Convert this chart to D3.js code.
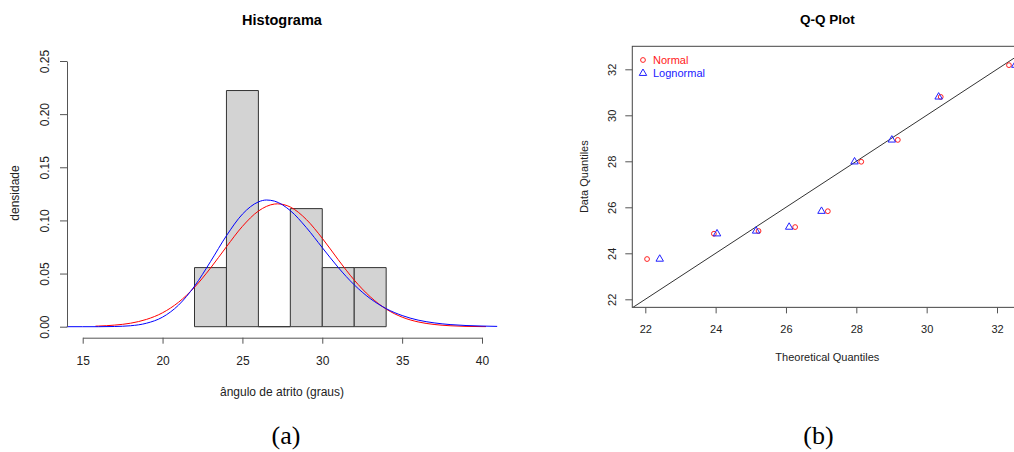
<!DOCTYPE html>
<html>
<head>
<meta charset="utf-8">
<script src="https://cdn.jsdelivr.net/npm/d3@7"></script>
<style>
  body { margin: 0; background: #fff; }
  svg { display: block; font-family: "Liberation Sans", Arial, sans-serif; }
  .axis path, .axis line { stroke: #555; }
  .axis text { fill: #222; }
</style>
</head>
<body>
<svg id="chart" width="1014" height="452"></svg>
<script>
"use strict";

// histogram bins (left panel)
var histBreaks = [22, 24, 26, 28, 30, 32, 34];
var histDensity = [0.0556, 0.2222, 0, 0.1111, 0.0556, 0.0556];
var histXTicks = [15, 20, 25, 30, 35, 40];
var histYTicks = [0, 0.05, 0.10, 0.15, 0.20, 0.25];

// fitted densities
var normX = [15.8, 16, 17, 18, 19, 20, 21, 22, 23, 24, 25, 26, 27, 27.2, 28, 29, 30, 31, 32, 33, 34, 35, 36, 37, 38, 39, 40, 40.25];
var normY = [0.0005, 0.0006, 0.0015, 0.0033, 0.0069, 0.0131, 0.0230, 0.0371, 0.0551, 0.0752, 0.0944, 0.1088, 0.1154, 0.1156, 0.1126, 0.1009, 0.0832, 0.0630, 0.0439, 0.0282, 0.0166, 0.0090, 0.0045, 0.0021, 0.0009, 0.0003, 0.0001, 0.0001];
var lognX = [14, 15, 16, 17, 18, 19, 20, 21, 22, 23, 24, 25, 26, 26.5, 27, 28, 29, 30, 31, 32, 33, 34, 35, 36, 37, 38, 39, 40, 40.95];
var lognY = [0, 0, 0, 0.0002, 0.0009, 0.0033, 0.0090, 0.0203, 0.0381, 0.0612, 0.0856, 0.1059, 0.1174, 0.1192, 0.1182, 0.1092, 0.0933, 0.0744, 0.0557, 0.0394, 0.0265, 0.0170, 0.0105, 0.0062, 0.0036, 0.0020, 0.0011, 0.0006, 0.0003];

// Q-Q plot (right panel)
var qqData      = [23.75, 24.85, 24.97, 25.14, 25.83, 27.98, 28.93, 30.80, 32.18];
var qqNormal    = [22.05, 23.95, 25.22, 26.26, 27.19, 28.14, 29.18, 30.40, 32.34];
var qqLognormal = [22.41, 24.04, 25.15, 26.09, 27.01, 27.95, 29.01, 30.34, 32.52];
var qqTicks = [22, 24, 26, 28, 30, 32];

var svg = d3.select('#chart');

// ---------- histogram ----------
var hx = d3.scaleLinear().domain([15, 40]).range([82.7, 482]);
var hy = d3.scaleLinear().domain([0, 0.25]).range([326.7, 61]);

var bins = histDensity.map(function(d, i) {
    return {x0: histBreaks[i], x1: histBreaks[i + 1], d: d};
});

svg.append('g').selectAll('path')
    .data(bins)
  .enter().append('path')
    .attr('d', function(b) {
        return 'M' + hx(b.x0) + ',' + hy(0) + 'V' + hy(b.d) +
               'H' + hx(b.x1) + 'V' + hy(0) + 'Z';
    })
    .style('fill', '#d3d3d3')
    .style('stroke', '#333')
    .style('stroke-width', 1);

function densityLine(xs, ys) {
    return d3.line()
        .x(function(d, i) { return hx(xs[i]); })
        .y(function(d) { return hy(d); })
        .curve(d3.curveMonotoneX)(ys);
}

svg.append('path')
    .attr('d', densityLine(normX, normY))
    .style('fill', 'none').style('stroke', '#ff0000').style('stroke-width', 1);
svg.append('path')
    .attr('d', densityLine(lognX, lognY))
    .style('fill', 'none').style('stroke', '#0000ff').style('stroke-width', 1);

var hxAxis = svg.append('g')
    .attr('class', 'axis')
    .attr('transform', 'translate(0,337.7)')
    .call(d3.axisBottom(hx).tickValues(histXTicks).tickSize(6).tickSizeOuter(0).tickPadding(13)
          .tickFormat(d3.format('d')));
hxAxis.selectAll('text').style('font-size', '12px');

var hyAxis = svg.append('g')
    .attr('class', 'axis')
    .attr('transform', 'translate(67,0)')
    .call(d3.axisLeft(hy).tickValues(histYTicks).tickSize(7).tickSizeOuter(0)
          .tickFormat(d3.format('.2f')));
hyAxis.selectAll('text')
    .attr('x', null).attr('dy', '0.35em')
    .attr('text-anchor', 'middle')
    .attr('transform', 'translate(-22,0) rotate(-90)')
    .style('font-size', '12px');

svg.append('text')
    .attr('x', 282).attr('y', 25)
    .attr('text-anchor', 'middle')
    .style('font-weight', 'bold').style('font-size', '14.5px')
    .text('Histograma');
svg.append('text')
    .attr('x', 282).attr('y', 396)
    .attr('text-anchor', 'middle')
    .style('font-size', '12px').style('fill', '#222')
    .text('ângulo de atrito (graus)');
svg.append('text')
    .attr('transform', 'translate(19,193) rotate(-90)')
    .attr('text-anchor', 'middle')
    .style('font-size', '12px').style('fill', '#222')
    .text('densidade');

// ---------- Q-Q plot ----------
var qx = d3.scaleLinear().domain([22, 32]).range([645.3, 997]);
var qy = d3.scaleLinear().domain([22, 32]).range([299.3, 69.3]);
var qxLim = [21.63, 33.2], qyLim = [21.65, 33.0];

svg.append('clipPath').attr('id', 'qqclip')
  .append('rect')
    .attr('x', qx(qxLim[0])).attr('y', qy(qyLim[1]))
    .attr('width', qx(qxLim[1]) - qx(qxLim[0]))
    .attr('height', qy(qyLim[0]) - qy(qyLim[1]));

svg.append('line')
    .attr('clip-path', 'url(#qqclip)')
    .attr('x1', qx(qxLim[0])).attr('y1', qy(qxLim[0]))
    .attr('x2', qx(qxLim[1])).attr('y2', qy(qxLim[1]))
    .style('stroke', '#333').style('stroke-width', 1);

var qqNorm = qqData.map(function(d, i) { return [qqNormal[i], d]; });
var qqLogn = qqData.map(function(d, i) { return [qqLognormal[i], d]; });

svg.append('g').attr('clip-path', 'url(#qqclip)').selectAll('circle')
    .data(qqNorm)
  .enter().append('circle')
    .attr('cx', function(d) { return qx(d[0]); })
    .attr('cy', function(d) { return qy(d[1]); })
    .attr('r', 2.4)
    .style('fill', 'none').style('stroke', '#ff2020').style('stroke-width', 1);

var tri = d3.symbol().type(d3.symbolTriangle).size(24);
svg.append('g').attr('clip-path', 'url(#qqclip)').selectAll('path')
    .data(qqLogn)
  .enter().append('path')
    .attr('d', tri)
    .attr('transform', function(d) { return 'translate(' + qx(d[0]) + ',' + qy(d[1]) + ')'; })
    .style('fill', 'none').style('stroke', '#2020ff').style('stroke-width', 1);

svg.append('rect')
    .attr('x', qx(qxLim[0])).attr('y', qy(qyLim[1]))
    .attr('width', qx(qxLim[1]) - qx(qxLim[0]))
    .attr('height', qy(qyLim[0]) - qy(qyLim[1]))
    .style('fill', 'none').style('stroke', '#444').style('stroke-width', 1);

var qxAxis = svg.append('g')
    .attr('class', 'axis')
    .attr('transform', 'translate(0,' + qy(qyLim[0]) + ')')
    .call(d3.axisBottom(qx).tickValues(qqTicks).tickSize(6).tickSizeOuter(0).tickPadding(12));
qxAxis.select('.domain').remove();
qxAxis.selectAll('text').style('font-size', '11px');

var qyAxis = svg.append('g')
    .attr('class', 'axis')
    .attr('transform', 'translate(' + qx(qxLim[0]) + ',0)')
    .call(d3.axisLeft(qy).tickValues(qqTicks).tickSize(7).tickSizeOuter(0));
qyAxis.select('.domain').remove();
qyAxis.selectAll('text')
    .attr('x', null).attr('dy', '0.35em')
    .attr('text-anchor', 'middle')
    .attr('transform', 'translate(-20.6,0) rotate(-90)')
    .style('font-size', '11px');

// legend
var lx = qx(qxLim[0]) + 10.7, ly = 60;
svg.append('circle')
    .attr('cx', lx).attr('cy', ly).attr('r', 2.4)
    .style('fill', 'none').style('stroke', '#ff2020');
svg.append('path')
    .attr('d', tri).attr('transform', 'translate(' + lx + ',' + (ly + 13.3) + ')')
    .style('fill', 'none').style('stroke', '#2020ff');
svg.append('text')
    .attr('x', lx + 10).attr('y', ly).attr('dy', '0.35em')
    .style('font-size', '11px').style('fill', '#ff2020')
    .text('Normal');
svg.append('text')
    .attr('x', lx + 10).attr('y', ly + 13.3).attr('dy', '0.35em')
    .style('font-size', '11px').style('fill', '#2020ff')
    .text('Lognormal');

svg.append('text')
    .attr('x', 827.3).attr('y', 24)
    .attr('text-anchor', 'middle')
    .style('font-weight', 'bold').style('font-size', '13.5px')
    .text('Q-Q Plot');
svg.append('text')
    .attr('x', 827.3).attr('y', 360.5)
    .attr('text-anchor', 'middle')
    .style('font-size', '11px').style('fill', '#222')
    .text('Theoretical Quantiles');
svg.append('text')
    .attr('transform', 'translate(588.3,176.7) rotate(-90)')
    .attr('text-anchor', 'middle')
    .style('font-size', '11px').style('fill', '#222')
    .text('Data Quantiles');

// captions
svg.append('text')
    .attr('x', 286).attr('y', 444)
    .attr('text-anchor', 'middle')
    .style('font-family', '"Liberation Serif", "Times New Roman", serif')
    .style('font-size', '26px')
    .text('(a)');
svg.append('text')
    .attr('x', 818.5).attr('y', 444)
    .attr('text-anchor', 'middle')
    .style('font-family', '"Liberation Serif", "Times New Roman", serif')
    .style('font-size', '26px')
    .text('(b)');
</script>
</body>
</html>
